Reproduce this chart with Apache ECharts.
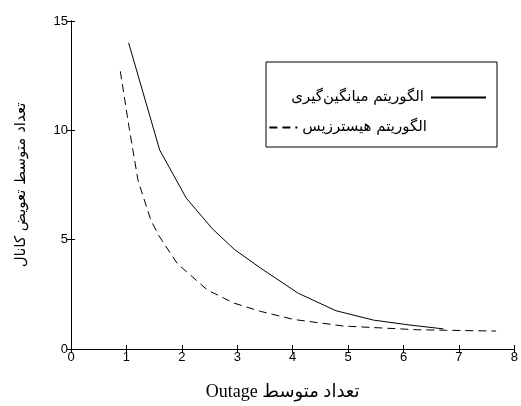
<!DOCTYPE html>
<html>
<head>
<meta charset="utf-8">
<script src="https://cdn.jsdelivr.net/npm/echarts@6/dist/echarts.min.js"></script>
<style>html,body{margin:0;padding:0;background:#fff}#c{width:521px;height:406px}</style>
</head>
<body>
<div id="c"></div>
<script>
var seriesNames = ['الگوریتم میانگین‌گیری', 'الگوریتم هیسترزیس'];
var avgX = [1.04, 1.6, 2.08, 2.55, 2.95, 3.42, 4.1, 4.78, 5.46, 6.1, 6.72];
var avgY = [14.0, 9.1, 6.9, 5.5, 4.55, 3.7, 2.55, 1.75, 1.32, 1.1, 0.92];
var hysX = [0.89, 1.05, 1.21, 1.44, 1.58, 1.92, 2.46, 2.94, 3.42, 4.02, 4.92, 6.24, 7.67];
var hysY = [12.7, 10.1, 7.7, 5.9, 5.2, 3.9, 2.7, 2.1, 1.72, 1.35, 1.05, 0.88, 0.82];
var xTicks = [0, 1, 2, 3, 4, 5, 6, 7, 8];
var yTicks = [0, 5, 10, 15];
var xTitle = 'Outage تعداد متوسط';
var yTitle = 'تعداد متوسط تعویض کانال';

function pairs(xs, ys) { return xs.map(function (x, i) { return [x, ys[i]]; }); }

var chart = echarts.init(document.getElementById('c'), null, { renderer: 'canvas' });
var tickStyle = { show: true, inside: true, length: 4, lineStyle: { color: '#000', width: 1 } };
var lineAx = { show: true, lineStyle: { color: '#000', width: 1 } };
var labelFont = { color: '#000', fontSize: 13, fontFamily: 'Liberation Sans, Arial, sans-serif' };
chart.setOption({
  animation: false,
  backgroundColor: '#fff',
  grid: { left: 71, right: 6, top: 21, bottom: 57, show: false },
  xAxis: [{
    type: 'value', min: xTicks[0], max: xTicks[xTicks.length - 1], interval: 1,
    axisLine: lineAx, axisTick: tickStyle, splitLine: { show: false },
    axisLabel: Object.assign({ margin: 2 }, labelFont),
    name: xTitle, nameLocation: 'middle', nameGap: 34,
    nameTextStyle: { color: '#000', fontSize: 18, fontFamily: 'Liberation Serif, DejaVu Sans, serif', padding: [0, 20, 0, 0] }
  }, {
    type: 'value', position: 'top', min: xTicks[0], max: xTicks[xTicks.length - 1], interval: 1,
    axisLine: lineAx, axisTick: tickStyle, axisLabel: { show: false }, splitLine: { show: false }
  }],
  yAxis: [{
    type: 'value', min: yTicks[0], max: yTicks[yTicks.length - 1], interval: 5,
    axisLine: lineAx, axisTick: tickStyle, splitLine: { show: false },
    axisLabel: Object.assign({ margin: 3, padding: [0, 0, 12, 0] }, labelFont),
    name: yTitle, nameLocation: 'middle', nameGap: 42, nameRotate: 90,
    nameTextStyle: { color: '#000', fontSize: 15, fontFamily: 'DejaVu Sans, sans-serif' }
  }, {
    type: 'value', position: 'right', min: yTicks[0], max: yTicks[yTicks.length - 1], interval: 5,
    axisLine: lineAx, axisTick: tickStyle, axisLabel: { show: false }, splitLine: { show: false }
  }],
  legend: [{
    data: [seriesNames[0]], align: 'right', orient: 'vertical',
    right: 34, top: 90, padding: 0, itemWidth: 55, itemHeight: 14, itemGap: 0,
    itemStyle: { opacity: 0 },
    textStyle: { color: '#000', fontSize: 15, fontFamily: 'DejaVu Sans, sans-serif', padding: [0, 2, 0, 0] }
  }, {
    data: [seriesNames[1]], align: 'left', orient: 'vertical',
    right: 94, top: 120, padding: 0, itemWidth: 28, itemHeight: 14, itemGap: 0,
    itemStyle: { opacity: 0 },
    textStyle: { color: '#000', fontSize: 15, fontFamily: 'DejaVu Sans, sans-serif' }
  }],
  graphic: [{
    type: 'rect', shape: { x: 266, y: 62, width: 231, height: 85 },
    style: { fill: 'none', stroke: '#000', lineWidth: 1 }, silent: true
  }],
  series: [{
    name: seriesNames[0], type: 'line', data: pairs(avgX, avgY),
    symbol: 'none', lineStyle: { color: '#000', width: 1, type: 'solid' }, itemStyle: { color: '#000' }
  }, {
    name: seriesNames[1], type: 'line', data: pairs(hysX, hysY),
    symbol: 'none', lineStyle: { color: '#000', width: 1, type: [8, 5] }, itemStyle: { color: '#000' }
  }]
});
</script>
</body>
</html>
